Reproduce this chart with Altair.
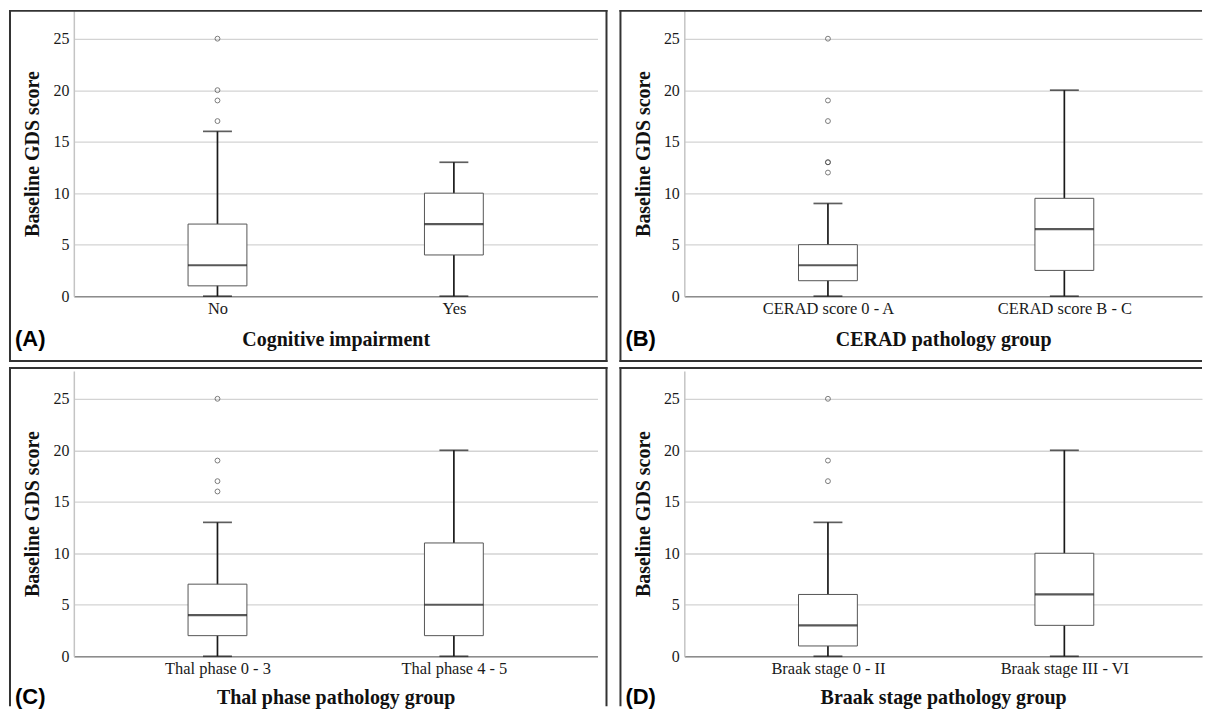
import altair as alt
import pandas as pd

Y_TITLE = "Baseline GDS score"

A_label = "(A)"
A_title = "Cognitive impairment"
A_cats = ["No", "Yes"]
A_min = [0, 0]
A_q1 = [1, 4]
A_med = [3, 7]
A_q3 = [7, 10]
A_max = [16, 13]
A_out = [[17, 19, 20, 25], []]

B_label = "(B)"
B_title = "CERAD pathology group"
B_cats = ["CERAD score 0 - A", "CERAD score B - C"]
B_min = [0, 0]
B_q1 = [1.5, 2.5]
B_med = [3, 6.5]
B_q3 = [5, 9.5]
B_max = [9, 20]
B_out = [[12, 13, 13, 17, 19, 25], []]

C_label = "(C)"
C_title = "Thal phase pathology group"
C_cats = ["Thal phase 0 - 3", "Thal phase 4 - 5"]
C_min = [0, 0]
C_q1 = [2, 2]
C_med = [4, 5]
C_q3 = [7, 11]
C_max = [13, 20]
C_out = [[16, 17, 19, 25], []]

D_label = "(D)"
D_title = "Braak stage pathology group"
D_cats = ["Braak stage 0 - II", "Braak stage III - VI"]
D_min = [0, 0]
D_q1 = [1, 3]
D_med = [3, 6]
D_q3 = [6, 10]
D_max = [13, 20]
D_out = [[17, 19, 25], []]

Y_TICKS = [0, 5, 10, 15, 20, 25]
Y_MAX = 27.7

FRAME = "#333333"
FIRST_C, SECOND_C = 144, 381  # pixel centres of the two groups in each panel


def panel(label, title, cats, mins, q1s, meds, q3s, maxs, outs,
          width, right_edge, bottom_edge, top_row, title_pad, tag_y):
    stats = pd.DataFrame({"cat": cats, "lo": mins, "q1": q1s, "med": meds,
                          "q3": q3s, "hi": maxs})
    out_rows = [{"cat": c, "v": v} for c, vals in zip(cats, outs) for v in vals]
    outliers = pd.DataFrame(out_rows, columns=["cat", "v"])

    step = SECOND_C - FIRST_C
    pad = (width / step - 1) / 2
    align = FIRST_C / (width - step)
    xscale = alt.Scale(type="point", domain=cats, padding=pad, align=align)
    yscale = alt.Scale(domain=[0, Y_MAX], nice=False, zero=False)
    xaxis = alt.Axis(labelAngle=0, labelFontSize=16.5, labelColor="#1a1a1a",
                     labelPadding=4, ticks=False, tickSize=0,
                     domainColor="#8c8c8c", domainWidth=1.5, grid=False,
                     titleFontSize=20, titleFontWeight="bold",
                     titleColor="#111111", titlePadding=title_pad)
    yaxis = alt.Axis(values=Y_TICKS, labelFontSize=16, labelColor="#1a1a1a",
                     labelPadding=5, ticks=False, tickSize=0,
                     domainColor="#c4c4c4", domainWidth=1.5,
                     gridColor="#d3d3d3", gridWidth=1.3,
                     titleFontSize=20, titleFontWeight="bold",
                     titleColor="#111111", titlePadding=10)

    def X():
        return alt.X("cat:N", scale=xscale, axis=xaxis, title=title)

    def Y(f):
        return alt.Y(f"{f}:Q", scale=yscale, axis=yaxis, title=Y_TITLE)

    base = alt.Chart(stats)
    whisker = base.mark_rule(color="#1a1a1a", strokeWidth=1.7).encode(
        x=X(), y=Y("lo"), y2="hi:Q")
    box = base.mark_bar(size=59, fill="white", stroke="#555555",
                        strokeWidth=1).encode(x=X(), y=Y("q1"), y2="q3:Q")
    median = base.mark_tick(size=59, thickness=2.2, color="#111111").encode(
        x=X(), y=Y("med"))
    cap_hi = base.mark_tick(size=29, thickness=1.7, color="#1a1a1a").encode(
        x=X(), y=Y("hi"))
    cap_lo = base.mark_tick(size=29, thickness=1.7, color="#1a1a1a").encode(
        x=X(), y=Y("lo"))
    pts = alt.Chart(outliers).mark_point(shape="circle", filled=False, size=24,
                                         color="#444444", strokeWidth=1).encode(
        x=X(), y=Y("v"))

    one = pd.DataFrame({"k": [0]})
    l0, l1 = -65, -63
    r1 = 535 if right_edge else width
    t0, t1 = (-1, 1) if top_row else (-4, -2)
    b1 = 352 if bottom_edge else 336

    def edge(x0, x1, y0, y1):
        return alt.Chart(one).mark_rect(fill=FRAME).encode(
            x=alt.value(x0), x2=alt.value(x1), y=alt.value(y0), y2=alt.value(y1))

    edges = [edge(l0, l1, t0, b1), edge(l0, r1, t0, t1)]
    if right_edge:
        edges.append(edge(r1 - 2, r1, t0, b1))
    if bottom_edge:
        edges.append(edge(l0, r1, b1 - 2, b1))

    tag = alt.Chart(one).mark_text(text=label, font="Liberation Sans",
                                   fontSize=22, fontWeight="bold",
                                   align="left", baseline="middle",
                                   color="#000000").encode(
        x=alt.value(-59), y=alt.value(tag_y))

    return alt.layer(whisker, box, median, cap_hi, cap_lo, pts, *edges, tag).properties(
        width=width, height=286)


pA = panel(A_label, A_title, A_cats, A_min, A_q1, A_med, A_q3, A_max, A_out,
           525, True, True, True, 13, 329)
pB = panel(B_label, B_title, B_cats, B_min, B_q1, B_med, B_q3, B_max, B_out,
           519, False, True, True, 13, 329)
pC = panel(C_label, C_title, C_cats, C_min, C_q1, C_med, C_q3, C_max, C_out,
           525, True, False, False, 11, 327)
pD = panel(D_label, D_title, D_cats, D_min, D_q1, D_med, D_q3, D_max, D_out,
           519, False, False, False, 11, 327)

chart = alt.vconcat(
    alt.hconcat(pA, pB, spacing=10),
    alt.hconcat(pC, pD, spacing=10),
    spacing=3,
).properties(padding=0).configure_view(stroke="transparent").configure_axis(
    labelFont="Liberation Serif", titleFont="Liberation Serif")

chart.save("out.html", embed_options={"renderer": "svg", "actions": False})
